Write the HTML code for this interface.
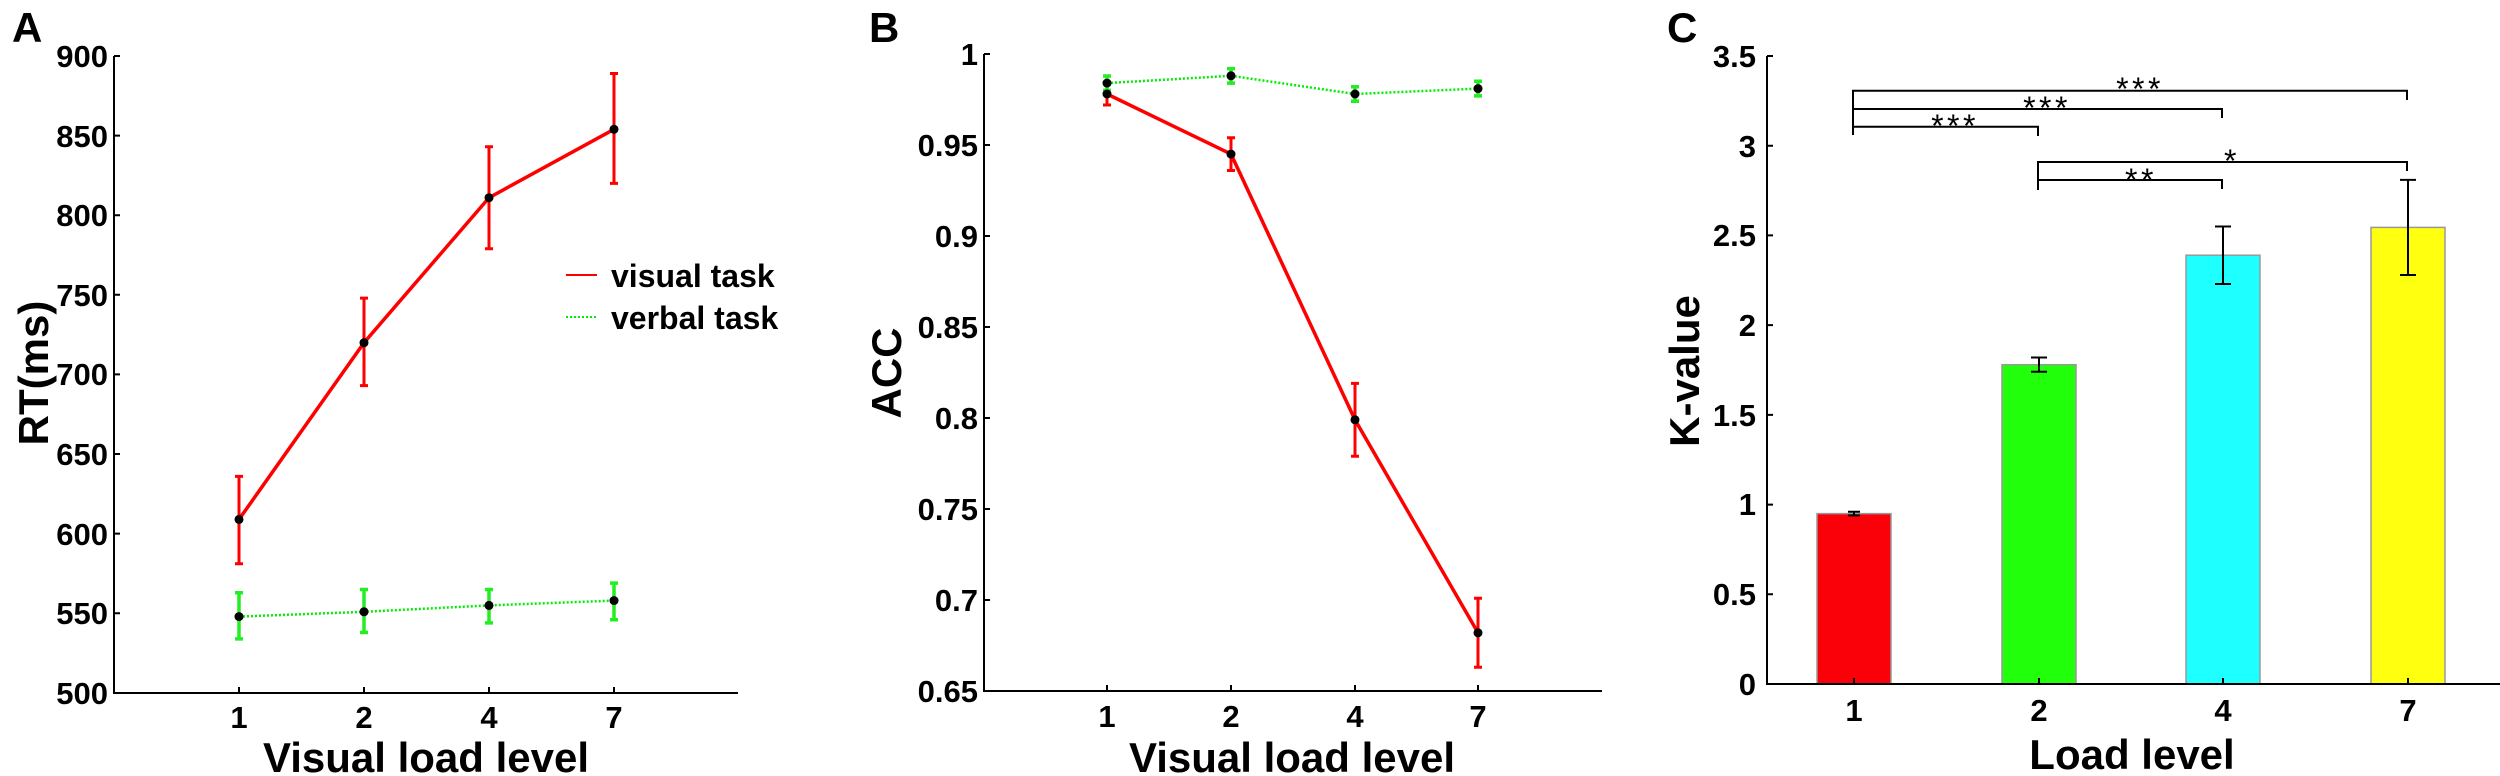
<!DOCTYPE html>
<html><head><meta charset="utf-8"><style>
html,body{margin:0;padding:0;background:#fff;}
svg{display:block;}
text{font-family:"Liberation Sans",Arial,sans-serif;}
.t{font-size:31px;font-weight:bold;}
.l{font-size:42px;font-weight:bold;}
.s{font-size:32px;letter-spacing:3.5px;}
</style></head><body>
<svg width="2500" height="776" viewBox="0 0 2500 776" xmlns="http://www.w3.org/2000/svg">
<rect width="2500" height="776" fill="#fff"/>
<!-- Panel A -->
<text x="12" y="42" class="l">A</text>
<g stroke="#000" stroke-width="2" fill="none">
<path d="M114,56 V693 H738"/>
<path d="M114,56h6M114,135.6h6M114,215.2h6M114,294.8h6M114,374.4h6M114,454h6M114,533.6h6M114,613.2h6M239,693v-6M364,693v-6M489,693v-6M614,693v-6"/>
</g>
<g class="t" text-anchor="end">
<text x="108" y="67">900</text><text x="108" y="147">850</text><text x="108" y="226">800</text><text x="108" y="306">750</text><text x="108" y="385">700</text><text x="108" y="465">650</text><text x="108" y="545">600</text><text x="108" y="624">550</text><text x="108" y="704">500</text>
</g>
<g class="t" text-anchor="middle">
<text x="239" y="728">1</text><text x="364" y="728">2</text><text x="489" y="728">4</text><text x="614" y="728">7</text>
</g>
<text x="426" y="772" class="l" text-anchor="middle">Visual load level</text>
<text transform="translate(48,373) rotate(-90)" class="l" text-anchor="middle">RT(ms)</text>
<polyline points="239,519.4 364,342.7 489,197.7 614,129.3" fill="none" stroke="#ff0000" stroke-width="3.5"/>
<g stroke="#ff0000" stroke-width="3" fill="none">
<path d="M239,476.4V563.8M235,476.4h8M235,563.8h8"/>
<path d="M364,298.1V385.6M360,298.1h8M360,385.6h8"/>
<path d="M489,146.8V248.7M485,146.8h8M485,248.7h8"/>
<path d="M614,73.5V183.4M610,73.5h8M610,183.4h8"/>
</g>
<polyline points="239,616.6 364,611.8 489,605.4 614,600.6" fill="none" stroke="#00ee00" stroke-width="2.5" stroke-dasharray="2,2"/>
<g stroke="#22ee22" stroke-width="3.5" fill="none">
<path d="M239,592.7V638.9M235,592.7h8M235,638.9h8"/>
<path d="M364,589.5V632.5M360,589.5h8M360,632.5h8"/>
<path d="M489,589.5V622.9M485,589.5h8M485,622.9h8"/>
<path d="M614,583.1V619.7M610,583.1h8M610,619.7h8"/>
</g>
<g fill="#000"><circle cx="239" cy="519.4" r="4.5"/><circle cx="364" cy="342.7" r="4.5"/><circle cx="489" cy="197.7" r="4.5"/><circle cx="614" cy="129.3" r="4.5"/>
<circle cx="239" cy="616.6" r="4.5"/><circle cx="364" cy="611.8" r="4.5"/><circle cx="489" cy="605.4" r="4.5"/><circle cx="614" cy="600.6" r="4.5"/></g>
<line x1="566" y1="275" x2="597" y2="275" stroke="#ff0000" stroke-width="2"/>
<line x1="566" y1="317" x2="597" y2="317" stroke="#00ee00" stroke-width="2" stroke-dasharray="2,2"/>
<text x="611" y="287" style="font-size:32px;font-weight:bold">visual task</text>
<text x="611" y="329" style="font-size:32px;font-weight:bold">verbal task</text>

<!-- Panel B -->
<text x="869" y="42" class="l">B</text>
<g stroke="#000" stroke-width="2" fill="none">
<path d="M984,54 V691 H1602"/>
<path d="M984,54h6M984,145h6M984,236h6M984,327h6M984,418h6M984,509h6M984,600h6M1107,691v-6M1231,691v-6M1355,691v-6M1478,691v-6"/>
</g>
<g class="t" text-anchor="end">
<text x="978" y="65">1</text><text x="978" y="156">0.95</text><text x="978" y="247">0.9</text><text x="978" y="338">0.85</text><text x="978" y="429">0.8</text><text x="978" y="520">0.75</text><text x="978" y="611">0.7</text><text x="978" y="702">0.65</text>
</g>
<g class="t" text-anchor="middle">
<text x="1107" y="727">1</text><text x="1231" y="727">2</text><text x="1355" y="727">4</text><text x="1478" y="727">7</text>
</g>
<text x="1292" y="772" class="l" text-anchor="middle">Visual load level</text>
<text transform="translate(901,373) rotate(-90)" class="l" text-anchor="middle">ACC</text>
<polyline points="1107,94 1231,154.1 1355,419.8 1478,632.8" fill="none" stroke="#ff0000" stroke-width="3.5"/>
<g stroke="#ff0000" stroke-width="3" fill="none">
<path d="M1107,85V105M1103,105h8"/>
<path d="M1231,137.7V170.5M1227,137.7h8M1227,170.5h8"/>
<path d="M1355,383.4V456.2M1351,383.4h8M1351,456.2h8"/>
<path d="M1478,598.2V667.3M1474,598.2h8M1474,667.3h8"/>
</g>
<polyline points="1107,83.1 1231,75.8 1355,94 1478,88.6" fill="none" stroke="#00ee00" stroke-width="2.5" stroke-dasharray="2,2"/>
<g stroke="#22ee22" stroke-width="3.5" fill="none">
<path d="M1107,76V90.4M1103,76h8M1103,90.4h8"/>
<path d="M1231,68.6V83.1M1227,68.6h8M1227,83.1h8"/>
<path d="M1355,86.8V101.3M1351,86.8h8M1351,101.3h8"/>
<path d="M1478,81.3V95.9M1474,81.3h8M1474,95.9h8"/>
</g>
<g fill="#000"><circle cx="1107" cy="94" r="4.5"/><circle cx="1231" cy="154.1" r="4.5"/><circle cx="1355" cy="419.8" r="4.5"/><circle cx="1478" cy="632.8" r="4.5"/>
<circle cx="1107" cy="83.1" r="4.5"/><circle cx="1231" cy="75.8" r="4.5"/><circle cx="1355" cy="94" r="4.5"/><circle cx="1478" cy="88.6" r="4.5"/></g>

<!-- Panel C -->
<text x="1667" y="42" class="l">C</text>
<g stroke="#999" stroke-width="1.5">
<rect x="1817" y="513.6" width="74" height="170.4" fill="#fa0008"/>
<rect x="2002" y="364.7" width="74" height="319.3" fill="#22ff0a"/>
<rect x="2186" y="255.2" width="74" height="428.8" fill="#1effff"/>
<rect x="2371" y="227.4" width="74" height="456.6" fill="#ffff10"/>
</g>
<g stroke="#000" stroke-width="2" fill="none">
<path d="M1767,56 V684 H2500"/>
<path d="M1767,56h6M1767,145.7h6M1767,235.4h6M1767,325.1h6M1767,414.9h6M1767,504.6h6M1767,594.3h6M1854,684v-6M2039,684v-6M2223,684v-6M2408,684v-6"/>
<path d="M1854,511.8V515.4M1848,511.8h12M1848,515.4h12"/>
<path d="M2039,357.5V371.8M2031,357.5h16M2031,371.8h16"/>
<path d="M2223,226.5V284M2215,226.5h16M2215,284h16"/>
<path d="M2408,179.9V275M2400,179.9h16M2400,275h16"/>
<path d="M1853,135V90.7H2407V100M1853,109H2222V118M1853,126.7H2038V136M2038,190V162H2407V171M2038,180H2222V189"/>
</g>
<g class="t" text-anchor="end">
<text x="1756" y="67">3.5</text><text x="1756" y="157">3</text><text x="1756" y="246">2.5</text><text x="1756" y="336">2</text><text x="1756" y="426">1.5</text><text x="1756" y="515">1</text><text x="1756" y="605">0.5</text><text x="1756" y="695">0</text>
</g>
<g class="t" text-anchor="middle">
<text x="1854" y="721">1</text><text x="2039" y="721">2</text><text x="2223" y="721">4</text><text x="2408" y="721">7</text>
</g>
<text x="2132" y="769" class="l" text-anchor="middle">Load level</text>
<text transform="translate(1699,371) rotate(-90)" class="l" text-anchor="middle">K-value</text>
<g class="s" text-anchor="middle">
<text x="2140" y="100">***</text>
<text x="2047" y="119">***</text>
<text x="1955" y="137">***</text>
<text x="2232" y="172">*</text>
<text x="2141" y="191">**</text>
</g>
</svg>
</body></html>
